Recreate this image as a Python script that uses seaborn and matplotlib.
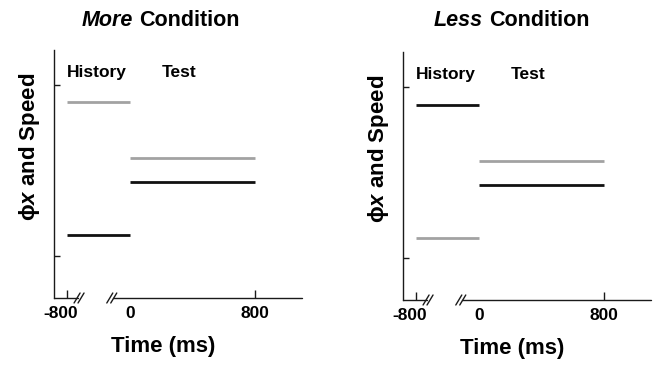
import numpy as np
import pandas as pd
import matplotlib
matplotlib.use("Agg")
import matplotlib.pyplot as plt
import matplotlib.transforms as mtransforms
import seaborn as sns

# ---- data (arbitrary units) ----
conditions = ["More", "Less"]
history_span = [-800, 0]
test_span = [0, 800]
hist_gray = [0.90, 0.117]
hist_black = [0.123, 0.895]
test_gray = [0.573, 0.567]
test_black = [0.433, 0.427]
xtick_vals = [-800, 0, 800]
xtick_labels = ["-800", "0", "800"]
ytick_vals = [0, 1]

sns.set_theme(style="white")
plt.rcParams["font.family"] = ["Liberation Sans", "DejaVu Sans"]
plt.rcParams["font.weight"] = "bold"
plt.rcParams["axes.unicode_minus"] = False
plt.rcParams["text.color"] = "black"
plt.rcParams["axes.labelcolor"] = "black"
plt.rcParams["xtick.color"] = "black"
plt.rcParams["ytick.color"] = "black"
plt.rcParams["mathtext.fontset"] = "custom"
plt.rcParams["mathtext.bfit"] = "Liberation Sans:bold:italic"

GRAY = "#a2a2a2"
BLACK = "#111111"
AX = "#1a1a1a"

fig = plt.figure(figsize=(6.66, 3.68), dpi=100)
axes_pos = [[54 / 666, 1 - 298 / 368, 248 / 666, 248 / 368],
            [403 / 666, 1 - 300 / 368, 248 / 666, 248 / 368]]

fwd = lambda x: np.where(np.asarray(x) < 0, np.asarray(x) / 2.0, np.asarray(x))
inv = lambda y: np.where(np.asarray(y) < 0, np.asarray(y) * 2.0, np.asarray(y))

for i, cond in enumerate(conditions):
    ax = fig.add_axes(axes_pos[i])
    rows = []
    for seg, (span, val, col) in enumerate([
            (history_span, hist_gray[i], "gray"),
            (history_span, hist_black[i], "black"),
            (test_span, test_gray[i], "gray"),
            (test_span, test_black[i], "black")]):
        for t in span:
            rows.append({"time": t, "value": val, "stim": col, "seg": seg})
    df = pd.DataFrame(rows)
    ax.set_xscale("function", functions=(fwd, inv))
    sns.lineplot(data=df, x="time", y="value", hue="stim", units="seg",
                 estimator=None, palette={"gray": GRAY, "black": BLACK},
                 linewidth=2.0, legend=False, ax=ax, solid_capstyle="butt")
    ax.set_xlim(-972, 1100)
    ax.set_ylim(-0.245, 1.205)

    for s in ["top", "right", "bottom"]:
        ax.spines[s].set_visible(False)
    ax.spines["left"].set_color(AX)
    ax.spines["left"].set_linewidth(1.0)

    ax.set_yticks(ytick_vals)
    ax.set_yticklabels([])
    ax.tick_params(axis="y", direction="in", length=4.5, width=1.0, color=AX, left=True)
    ax.set_xticks(xtick_vals)
    ax.set_xticklabels(xtick_labels, fontsize=12.5, fontweight="bold")
    ax.tick_params(axis="x", direction="in", length=6, width=1.0, color=AX,
                   bottom=True, pad=5.5)
    ax.xaxis.get_major_ticks()[1].tick1line.set_visible(False)
    lab = ax.get_xticklabels()[0]
    lab.set_transform(lab.get_transform() +
                      mtransforms.ScaledTranslation(-7 / 100, 0, fig.dpi_scale_trans))

    # broken x axis
    kw = dict(transform=ax.transAxes, clip_on=False, color=AX, lw=1.0)
    ax.plot([0, 0.095], [0, 0], **kw)
    ax.plot([0.236, 1.0], [0, 0], **kw)
    dx, dy = 3 / 248, 5 / 248
    for cx in [0.093, 0.109, 0.225, 0.241]:
        ax.plot([cx - dx, cx + dx], [-dy, dy], **kw)

    ax.set_xlabel("Time (ms)", fontsize=16, fontweight="bold")
    ax.xaxis.set_label_coords(0.442, -0.155)
    ax.set_ylabel("\u03d5$\\mathbfit{x}$ and Speed", fontsize=16, fontweight="bold")
    ax.yaxis.set_label_coords(-0.05, 0.61)

    ax.text(0.05, 0.91, "History", transform=ax.transAxes, fontsize=12.5,
            fontweight="bold", ha="left", va="center")
    ax.text(0.435, 0.91, "Test", transform=ax.transAxes, fontsize=12.5,
            fontweight="bold", ha="left", va="center")

    # title
    split = [136, 486][i]
    fig.text((split - 3) / 666, 1 - 26 / 368, cond, fontsize=15.5,
             fontweight="bold", style="italic", ha="right", va="baseline")
    fig.text((split + 3) / 666, 1 - 26 / 368, "Condition", fontsize=15.5,
             fontweight="bold", ha="left", va="baseline")

fig.savefig("out.png", dpi=100)
